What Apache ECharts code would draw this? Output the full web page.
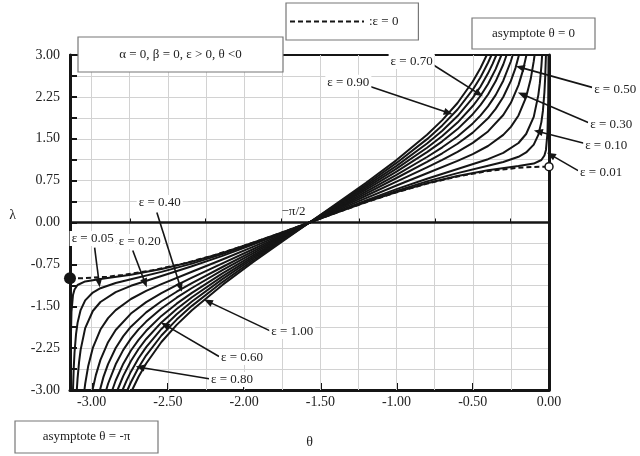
<!DOCTYPE html>
<html><head><meta charset="utf-8">
<script src="https://cdn.jsdelivr.net/npm/echarts@6/dist/echarts.min.js"></script>
<style>html,body{margin:0;padding:0;background:#fff}#c{width:640px;height:456px}</style>
</head><body><div id="c"></div>
<script>
const PI = Math.PI;
// axis ticks
const xLabelTicks = [-3, -2.5, -2, -1.5, -1, -0.5, 0];
const xMinorTicks = [-2.75, -2.25, -1.75, -1.25, -0.75, -0.25];
const xGridLines = [-3, -2.75, -2.5, -2.25, -2, -1.75, -1.5, -1.25, -1, -0.75, -0.5, -0.25];
const yMin = -3, yMax = 3, yStep = 0.75;

// epsilon = 0 (dashed)
const dashTheta = [-3.1416, -3.05, -2.9, -2.8, -2.6, -2.4, -2.2, -2.0, -1.8, -1.5708, -1.4, -1.2, -1.0, -0.8, -0.6, -0.4, -0.2, -0.1, 0];
const dashLambda = [-1, -0.996, -0.971, -0.942, -0.857, -0.737, -0.589, -0.416, -0.227, 0, 0.170, 0.362, 0.540, 0.697, 0.825, 0.921, 0.980, 0.995, 1];

// curves [theta, lambda]
const eps100 = [[-2.734,-3],[-2.692,-2.763],[-2.642,-2.525],[-2.542,-2.141],[-2.442,-1.834],[-2.342,-1.571],[-2.142,-1.118],[-1.942,-0.712],[-1.742,-0.325],[-1.571,0],[-1.4,0.325],[-1.2,0.712],[-1.0,1.118],[-0.8,1.571],[-0.7,1.834],[-0.6,2.141],[-0.5,2.525],[-0.45,2.763],[-0.408,3]];
const eps090 = [[-2.765,-3],[-2.742,-2.861],[-2.692,-2.598],[-2.642,-2.379],[-2.542,-2.024],[-2.442,-1.739],[-2.342,-1.493],[-2.142,-1.067],[-1.942,-0.681],[-1.742,-0.311],[-1.571,0],[-1.4,0.311],[-1.2,0.681],[-1.0,1.067],[-0.8,1.493],[-0.7,1.739],[-0.6,2.024],[-0.5,2.379],[-0.45,2.598],[-0.4,2.861],[-0.377,3]];
const eps080 = [[-2.797,-3],[-2.772,-2.840],[-2.742,-2.671],[-2.692,-2.432],[-2.642,-2.233],[-2.542,-1.907],[-2.442,-1.644],[-2.342,-1.416],[-2.142,-1.015],[-1.942,-0.650],[-1.742,-0.298],[-1.571,0],[-1.4,0.298],[-1.2,0.650],[-1.0,1.015],[-0.8,1.416],[-0.7,1.644],[-0.6,1.907],[-0.5,2.233],[-0.45,2.432],[-0.4,2.671],[-0.37,2.840],[-0.345,3]];
const eps070 = [[-2.830,-3],[-2.792,-2.747],[-2.742,-2.482],[-2.692,-2.266],[-2.642,-2.086],[-2.542,-1.790],[-2.442,-1.549],[-2.342,-1.338],[-2.142,-0.964],[-1.942,-0.619],[-1.742,-0.284],[-1.571,0],[-1.4,0.284],[-1.2,0.619],[-1.0,0.964],[-0.8,1.338],[-0.7,1.549],[-0.6,1.790],[-0.5,2.086],[-0.45,2.266],[-0.4,2.482],[-0.35,2.747],[-0.312,3]];
const eps060 = [[-2.864,-3],[-2.842,-2.830],[-2.792,-2.528],[-2.742,-2.293],[-2.692,-2.101],[-2.642,-1.940],[-2.542,-1.673],[-2.442,-1.454],[-2.342,-1.260],[-2.142,-0.912],[-1.942,-0.588],[-1.742,-0.270],[-1.571,0],[-1.4,0.270],[-1.2,0.588],[-1.0,0.912],[-0.8,1.260],[-0.7,1.454],[-0.6,1.673],[-0.5,1.940],[-0.45,2.101],[-0.4,2.293],[-0.35,2.528],[-0.3,2.830],[-0.278,3]];
const eps050 = [[-2.904,-3],[-2.892,-2.888],[-2.842,-2.539],[-2.792,-2.281],[-2.742,-2.080],[-2.692,-1.914],[-2.642,-1.775],[-2.542,-1.541],[-2.442,-1.347],[-2.342,-1.173],[-2.142,-0.855],[-1.942,-0.553],[-1.742,-0.255],[-1.571,0],[-1.4,0.255],[-1.2,0.553],[-1.0,0.855],[-0.8,1.173],[-0.7,1.347],[-0.6,1.541],[-0.5,1.775],[-0.45,1.914],[-0.4,2.080],[-0.35,2.281],[-0.3,2.539],[-0.25,2.888],[-0.238,3]];
const eps040 = [[-2.945,-3],[-2.922,-2.765],[-2.892,-2.536],[-2.842,-2.248],[-2.792,-2.035],[-2.742,-1.867],[-2.642,-1.610],[-2.542,-1.410],[-2.442,-1.240],[-2.342,-1.086],[-2.142,-0.797],[-1.942,-0.518],[-1.742,-0.239],[-1.571,0],[-1.4,0.239],[-1.2,0.518],[-1.0,0.797],[-0.8,1.086],[-0.7,1.240],[-0.6,1.410],[-0.5,1.610],[-0.4,1.867],[-0.35,2.035],[-0.3,2.248],[-0.25,2.536],[-0.22,2.765],[-0.197,3]];
const eps030 = [[-2.994,-3],[-2.972,-2.734],[-2.942,-2.460],[-2.892,-2.144],[-2.842,-1.925],[-2.742,-1.631],[-2.642,-1.427],[-2.542,-1.264],[-2.442,-1.121],[-2.342,-0.988],[-2.142,-0.733],[-1.942,-0.479],[-1.742,-0.222],[-1.571,0],[-1.4,0.222],[-1.2,0.479],[-1.0,0.733],[-0.8,0.988],[-0.7,1.121],[-0.6,1.264],[-0.5,1.427],[-0.4,1.631],[-0.3,1.925],[-0.25,2.144],[-0.2,2.460],[-0.17,2.734],[-0.148,3]];
const eps020 = [[-3.047,-3],[-3.042,-2.889],[-3.022,-2.569],[-2.992,-2.246],[-2.942,-1.917],[-2.892,-1.713],[-2.842,-1.569],[-2.742,-1.370],[-2.642,-1.226],[-2.542,-1.103],[-2.342,-0.882],[-2.142,-0.662],[-1.942,-0.436],[-1.742,-0.203],[-1.571,0],[-1.4,0.203],[-1.2,0.436],[-1.0,0.662],[-0.8,0.882],[-0.6,1.103],[-0.5,1.226],[-0.4,1.370],[-0.3,1.569],[-0.25,1.713],[-0.2,1.917],[-0.15,2.246],[-0.12,2.569],[-0.1,2.889],[-0.0945,3]];
const eps010 = [[-3.097,-3],[-3.092,-2.797],[-3.082,-2.496],[-3.072,-2.282],[-3.042,-1.892],[-2.992,-1.585],[-2.942,-1.424],[-2.842,-1.246],[-2.742,-1.134],[-2.542,-0.957],[-2.342,-0.784],[-2.142,-0.598],[-1.942,-0.397],[-1.742,-0.186],[-1.571,0],[-1.4,0.186],[-1.2,0.397],[-1.0,0.598],[-0.8,0.784],[-0.6,0.957],[-0.4,1.134],[-0.3,1.246],[-0.2,1.424],[-0.15,1.585],[-0.1,1.892],[-0.07,2.282],[-0.06,2.496],[-0.05,2.797],[-0.045,3]];
const eps005 = [[-3.122,-3],[-3.117,-2.6],[-3.112,-2.333],[-3.102,-1.999],[-3.092,-1.798],[-3.072,-1.569],[-3.042,-1.394],[-2.992,-1.254],[-2.942,-1.177],[-2.842,-1.084],[-2.742,-1.016],[-2.542,-0.884],[-2.342,-0.736],[-2.142,-0.566],[-1.942,-0.378],[-1.742,-0.177],[-1.571,0],[-1.4,0.177],[-1.2,0.378],[-1.0,0.566],[-0.8,0.736],[-0.6,0.884],[-0.4,1.016],[-0.3,1.084],[-0.2,1.177],[-0.15,1.254],[-0.1,1.394],[-0.07,1.569],[-0.05,1.798],[-0.04,1.999],[-0.03,2.333],[-0.025,2.6],[-0.02,3]];
const eps001 = [[-3.139,-3],[-3.137,-2.2],[-3.132,-1.6],[-3.122,-1.3],[-3.112,-1.2],[-3.092,-1.119],[-3.042,-1.055],[-2.942,-1.010],[-2.742,-0.935],[-2.542,-0.834],[-2.342,-0.703],[-2.142,-0.544],[-1.942,-0.364],[-1.742,-0.171],[-1.571,0],[-1.4,0.171],[-1.2,0.364],[-1.0,0.544],[-0.8,0.703],[-0.6,0.834],[-0.4,0.935],[-0.2,1.010],[-0.1,1.055],[-0.05,1.119],[-0.03,1.2],[-0.02,1.3],[-0.01,1.6],[-0.005,2.2],[-0.003,3]];

const curveNames = ['ε = 0.01','ε = 0.05','ε = 0.10','ε = 0.20','ε = 0.30','ε = 0.40','ε = 0.50','ε = 0.60','ε = 0.70','ε = 0.80','ε = 0.90','ε = 1.00'];
const curveData = [eps001, eps005, eps010, eps020, eps030, eps040, eps050, eps060, eps070, eps080, eps090, eps100];

// annotations (data coordinates)
const annotText = ['ε = 0.70','ε = 0.90','ε = 0.50','ε = 0.30','ε = 0.10','ε = 0.01','ε = 0.40','ε = 0.05','ε = 0.20','ε = 1.00','ε = 0.60','ε = 0.80'];
const annotTextPos = [[-0.901,2.885],[-1.316,2.51],[0.434,2.38],[0.408,1.756],[0.375,1.38],[0.342,0.896],[-2.553,0.358],[-2.993,-0.287],[-2.684,-0.34],[-1.684,-1.953],[-2.013,-2.42],[-2.079,-2.81]];
const annotTail = [[-0.763,2.83],[-1.178,2.44],[0.283,2.42],[0.257,1.79],[0.230,1.42],[0.191,0.93],[-2.572,0.18],[-2.980,-0.45],[-2.730,-0.50],[-1.822,-1.95],[-2.164,-2.40],[-2.230,-2.80]];
const annotTip = [[-0.434,2.26],[-0.632,1.94],[-0.217,2.80],[-0.204,2.33],[-0.099,1.65],[-0.013,1.25],[-2.408,-1.24],[-2.947,-1.16],[-2.638,-1.16],[-2.263,-1.38],[-2.546,-1.79],[-2.711,-2.58]];

const FONT = '"Liberation Serif", "Times New Roman", serif';
const INK = '#151515';
const GRIDC = '#d2d2d2';

const chart = echarts.init(document.getElementById('c'));

const dashData = dashTheta.map((t, i) => {
  const v = [t, dashLambda[i]];
  if (i === 0) return { value: v, symbol: 'circle', symbolSize: 12, itemStyle: { color: INK } };
  if (i === dashTheta.length - 1) return { value: v, symbol: 'circle', symbolSize: 8, itemStyle: { color: '#fff', borderColor: INK, borderWidth: 1.5 } };
  return { value: v };
});

const series = [
  { type: 'line', name: 'gridlines', data: [], silent: true,
    markLine: { silent: true, z: 1, symbol: ['none', 'none'], label: { show: false },
      lineStyle: { color: GRIDC, width: 1, type: 'solid' },
      emphasis: { disabled: true },
      data: xGridLines.map(v => ({ xAxis: v })) } },
  { type: 'line', name: 'zero', data: [], silent: true,
    markLine: { silent: true, z: 2, symbol: ['none', 'none'], label: { show: false },
      lineStyle: { color: INK, width: 2.5, type: 'solid' },
      emphasis: { disabled: true },
      data: [{ yAxis: 0 }] } }
];
curveData.forEach((d, i) => {
  series.push({ type: 'line', name: curveNames[i], data: d, symbol: 'none', showSymbol: false,
    smooth: false, silent: true, z: 3,
    lineStyle: { color: INK, width: 2, join: 'round' } });
});
series.push({ type: 'line', name: ':ε = 0', data: dashData, symbol: 'none', showSymbol: true,
  smooth: false, clip: false, silent: true, z: 4,
  lineStyle: { color: INK, width: 2, type: [5, 3] } });

const option = {
  animation: false,
  backgroundColor: '#fff',
  textStyle: { fontFamily: FONT },
  grid: { left: 70, right: 91, top: 55, bottom: 66 },
  legend: {
    left: 286, top: 3, data: [':ε = 0'], selectedMode: false,
    itemWidth: 74, itemHeight: 12, padding: [12, 20, 12, 3],
    borderColor: '#777', borderWidth: 1.2, backgroundColor: '#fff',
    itemStyle: { opacity: 0 },
    textStyle: { fontFamily: FONT, fontSize: 13, color: '#222' }
  },
  xAxis: [
    { type: 'value', min: -PI, max: 0, position: 'bottom',
      axisLine: { show: true, onZero: false, lineStyle: { color: INK, width: 3 } },
      axisTick: { show: true, inside: true, length: 7, customValues: xLabelTicks, lineStyle: { color: INK, width: 2 } },
      axisLabel: { show: true, customValues: xLabelTicks, formatter: v => v.toFixed(2), color: '#222', fontSize: 14, fontFamily: FONT, margin: 5 },
      splitLine: { show: false },
      name: 'θ', nameLocation: 'middle', nameGap: 45,
      nameTextStyle: { fontFamily: FONT, fontSize: 14, color: '#222' } },
    { type: 'value', min: -PI, max: 0, position: 'bottom',
      axisLine: { show: false },
      axisTick: { show: true, inside: true, length: 4, customValues: xMinorTicks, lineStyle: { color: INK, width: 2 } },
      axisLabel: { show: false }, splitLine: { show: false } },
    { type: 'value', min: -PI, max: 0, position: 'top',
      axisLine: { show: true, onZero: false, lineStyle: { color: INK, width: 2 } },
      axisTick: { show: false }, axisLabel: { show: false }, splitLine: { show: false } }
  ],
  yAxis: [
    { type: 'value', min: yMin, max: yMax, interval: yStep, position: 'left',
      axisLine: { show: true, onZero: false, lineStyle: { color: INK, width: 3 } },
      axisTick: { show: true, inside: true, length: 7, lineStyle: { color: INK, width: 2 } },
      minorTick: { show: true, splitNumber: 2, length: 7, lineStyle: { color: INK, width: 2 } },
      axisLabel: { formatter: v => v.toFixed(2), color: '#222', fontSize: 14, fontFamily: FONT, margin: 10 },
      splitLine: { show: true, lineStyle: { color: GRIDC, width: 1 } },
      minorSplitLine: { show: true, lineStyle: { color: GRIDC, width: 1 } },
      name: 'λ', nameLocation: 'middle', nameRotate: 0, nameGap: 54,
      nameTextStyle: { fontFamily: FONT, fontSize: 14, color: '#222', verticalAlign: 'bottom' } },
    { type: 'value', min: yMin, max: yMax, position: 'right',
      axisLine: { show: true, onZero: false, lineStyle: { color: INK, width: 3 } },
      axisTick: { show: false }, axisLabel: { show: false }, splitLine: { show: false } }
  ],
  series: series
};
chart.setOption(option);

// annotations
function px(p) { return chart.convertToPixel({ xAxisIndex: 0, yAxisIndex: 0 }, p); }
const g = [];
annotText.forEach((t, i) => {
  const a = px(annotTail[i]), b = px(annotTip[i]);
  const dx = b[0] - a[0], dy = b[1] - a[1], L = Math.hypot(dx, dy);
  const ux = dx / L, uy = dy / L, nx = -uy, ny = ux;
  const hl = 9, hw = 3.6;
  g.push({ type: 'line', silent: true, z: 50, shape: { x1: a[0], y1: a[1], x2: b[0] - ux * hl * 0.6, y2: b[1] - uy * hl * 0.6 }, style: { stroke: INK, lineWidth: 1.6 } });
  g.push({ type: 'polygon', silent: true, z: 50, shape: { points: [[b[0], b[1]], [b[0] - ux * hl + nx * hw, b[1] - uy * hl + ny * hw], [b[0] - ux * hl - nx * hw, b[1] - uy * hl - ny * hw]] }, style: { fill: INK } });
  const c = px(annotTextPos[i]);
  g.push({ type: 'text', silent: true, z: 60, x: c[0], y: c[1], style: { text: t, fontFamily: FONT, fontSize: 13, fill: '#222', align: 'center', verticalAlign: 'middle', backgroundColor: '#fff', padding: [1, 2] } });
});
const half = px([-PI / 2, 0]);
g.push({ type: 'text', silent: true, z: 60, x: half[0] - 4, y: half[1] - 4, style: { text: '−π/2', fontFamily: FONT, fontSize: 13, fill: '#222', align: 'right', verticalAlign: 'bottom' } });

function box(x, y, w, h, text) {
  g.push({ type: 'rect', silent: true, z: 70, shape: { x: x, y: y, width: w, height: h }, style: { fill: '#fff', stroke: '#777', lineWidth: 1.2 } });
  g.push({ type: 'text', silent: true, z: 71, x: x + w / 2, y: y + h / 2, style: { text: text, fontFamily: FONT, fontSize: 13, fill: '#222', align: 'center', verticalAlign: 'middle' } });
}
box(78, 37, 205, 35, 'α = 0, β = 0, ε > 0, θ <0');
box(472, 18, 123, 31, 'asymptote θ = 0');
box(15, 421, 143, 32, 'asymptote θ = -π');

chart.setOption({ graphic: g });
</script>
</body></html>
